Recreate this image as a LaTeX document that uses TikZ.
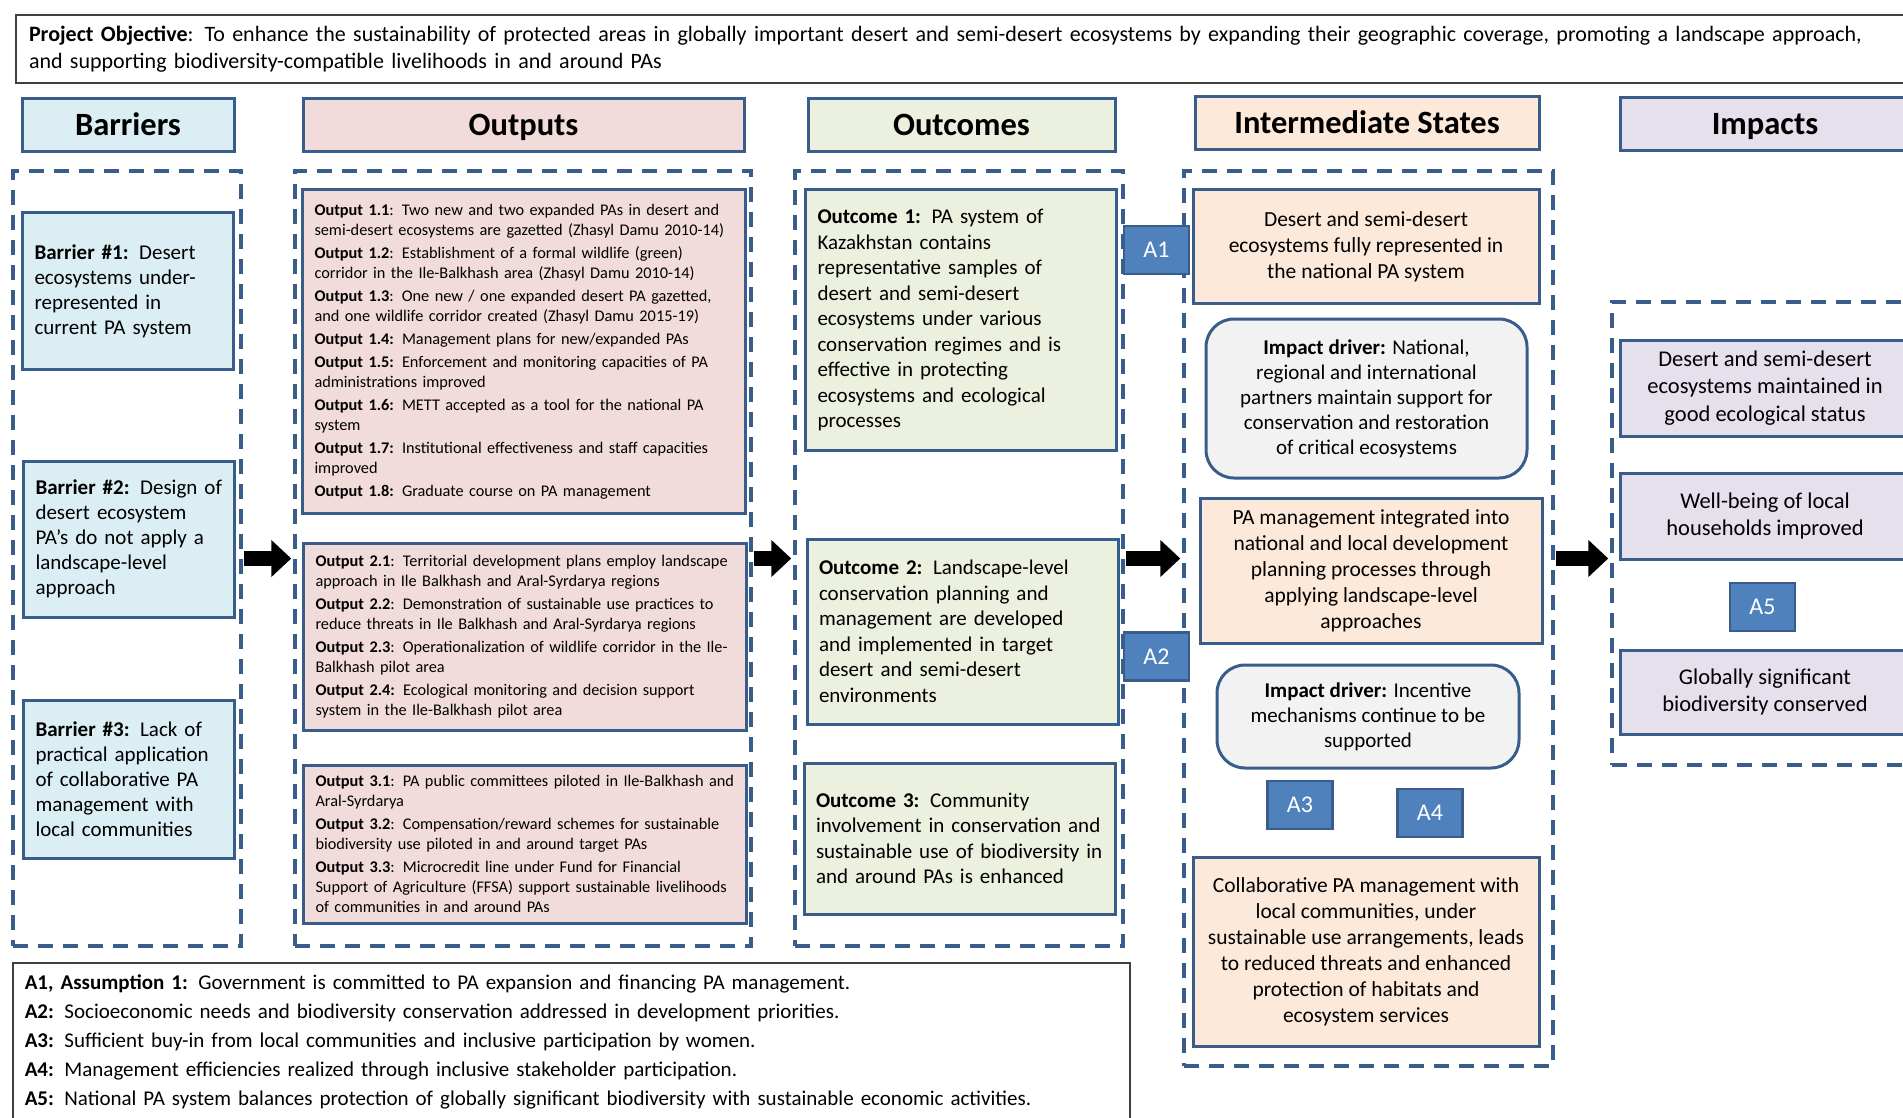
\documentclass[tikz,border=0pt]{standalone}
\usepackage{fontspec}
\setmainfont{Carlito}
\usepackage{tikz}
\usetikzlibrary{arrows.meta}
\definecolor{edge}{HTML}{385D8A}
\definecolor{objline}{HTML}{404040}
\definecolor{barfill}{HTML}{DAEEF3}
\definecolor{outfill}{HTML}{F2DCDB}
\definecolor{ocfill}{HTML}{EBF1DE}
\definecolor{intfill}{HTML}{FDE9D9}
\definecolor{impfill}{HTML}{E5E0EC}
\definecolor{drvfill}{HTML}{F2F2F2}
\definecolor{afill}{HTML}{4F81BD}

\begin{document}
\begin{tikzpicture}[x=1pt, y=-1pt,
  cellbox/.style={draw=edge, line width=3pt, inner xsep=12pt, inner ysep=0pt},
  head/.style={cellbox, minimum height=53pt, text height=26pt, text depth=5pt, font=\fontsize{32.5}{38}\selectfont\bfseries},
  dashgrp/.style={draw=edge, line width=3.5pt, dash pattern=on 15pt off 10pt, inner sep=0pt},
  barcell/.style={cellbox, fill=barfill, text width=187pt, align=left, font=\fontsize{21}{25}\selectfont},
  outcell/.style={cellbox, fill=outfill, text width=419pt, align=left, font=\fontsize{16.3}{20}\selectfont},
  occell/.style={cellbox, fill=ocfill, text width=287pt, align=left, font=\fontsize{21}{25.5}\selectfont},
  intcell/.style={cellbox, fill=intfill, align=center, font=\fontsize{21.5}{26}\selectfont},
  drvcell/.style={cellbox, fill=drvfill, rounded corners=28pt, align=center, font=\fontsize{21}{25}\selectfont},
  impcell/.style={cellbox, fill=impfill, minimum width=290pt, align=center, font=\fontsize{22.5}{27.5}\selectfont},
  acell/.style={draw=edge, fill=afill, line width=2.5pt, text=white, minimum width=65pt, minimum height=48pt, inner sep=0pt, font=\fontsize{24}{28}\selectfont},
  fat/.style={line width=15pt, -{Triangle[width=36pt,length=20pt]}, shorten <=1pt, shorten >=2pt}]
  \useasboundingbox (0,0) rectangle (1903,1118);

  \node[draw=objline, line width=2pt, anchor=west, text width=1885pt, minimum height=68pt, inner xsep=13pt, align=left, font=\fontsize{22}{26.5}\selectfont] (goal) at (15,49)
    {\textbf{Project Objective}: To enhance the sustainability of protected areas in globally important desert and semi-desert ecosystems by expanding their geographic coverage, promoting a landscape approach,\\and supporting biodiversity-compatible livelihoods in and around PAs};

  \node[head, fill=barfill, minimum width=212pt] (hbar) at (128,125.5) {Barriers};
  \node[head, fill=outfill, minimum width=441pt] (hout) at (523.5,125.5) {Outputs};
  \node[head, fill=ocfill, minimum width=307pt] (hoc) at (961.5,125.5) {Outcomes};
  \node[head, fill=intfill, minimum width=344pt] (hint) at (1367,123.5) {Intermediate States};
  \node[head, fill=impfill, minimum width=290pt] (himp) at (1765,124) {Impacts};

  \node[dashgrp, minimum width=228pt, minimum height=775pt] (gbar) at (127,558.5) {};
  \node[dashgrp, minimum width=456pt, minimum height=775pt] (gout) at (523,558.5) {};
  \node[dashgrp, minimum width=328pt, minimum height=775pt] (goc) at (959,558.5) {};
  \node[dashgrp, minimum width=369pt, minimum height=895pt] (gint) at (1368.5,618.5) {};
  \node[dashgrp, minimum width=313pt, minimum height=463pt] (gimp) at (1768.5,533.5) {};

  \node[barcell, minimum height=156pt] (bar1) at (128,291)
    {\textbf{Barrier \#1:} Desert\\ecosystems under-\\represented in\\current PA system};
  \node[barcell, minimum height=156pt] (bar2) at (129,539)
    {\textbf{Barrier \#2:} Design of\\desert ecosystem\\PA’s do not apply a\\landscape-level\\approach};
  \node[barcell, minimum height=158pt] (bar3) at (129,779)
    {\textbf{Barrier \#3:} Lack of\\practical application\\of collaborative PA\\management with\\local communities};

  \node[outcell, minimum height=323pt] (out1) at (524,351.5)
    {\textbf{Output 1.1}: Two new and two expanded PAs in desert and\\semi-desert ecosystems are gazetted (Zhasyl Damu 2010-14)\\[3pt]
     \textbf{Output 1.2}: Establishment of a formal wildlife (green)\\corridor in the Ile-Balkhash area (Zhasyl Damu 2010-14)\\[3pt]
     \textbf{Output 1.3}: One new / one expanded desert PA gazetted,\\and one wildlife corridor created (Zhasyl Damu 2015-19)\\[3pt]
     \textbf{Output 1.4:} Management plans for new/expanded PAs\\[3pt]
     \textbf{Output 1.5:} Enforcement and monitoring capacities of PA\\administrations improved\\[3pt]
     \textbf{Output 1.6:} METT accepted as a tool for the national PA\\system\\[3pt]
     \textbf{Output 1.7:} Institutional effectiveness and staff capacities\\improved\\[3pt]
     \textbf{Output 1.8:} Graduate course on PA management};
  \node[outcell, minimum height=187pt] (out2) at (525,636.5)
    {\textbf{Output 2.1}: Territorial development plans employ landscape\\approach in Ile Balkhash and Aral-Syrdarya regions\\[3pt]
     \textbf{Output 2.2}: Demonstration of sustainable use practices to\\reduce threats in Ile Balkhash and Aral-Syrdarya regions\\[3pt]
     \textbf{Output 2.3}: Operationalization of wildlife corridor in the Ile-\\Balkhash pilot area\\[3pt]
     \textbf{Output 2.4:} Ecological monitoring and decision support\\system in the Ile-Balkhash pilot area};
  \node[outcell, minimum height=158pt] (out3) at (525,844)
    {\textbf{Output 3.1}: PA public committees piloted in Ile-Balkhash and\\Aral-Syrdarya\\[3pt]
     \textbf{Output 3.2}: Compensation/reward schemes for sustainable\\biodiversity use piloted in and around target PAs\\[3pt]
     \textbf{Output 3.3}: Microcredit line under Fund for Financial\\Support of Agriculture (FFSA) support sustainable livelihoods\\of communities in and around PAs};

  \node[occell, minimum height=260pt] (oc1) at (961,320)
    {\textbf{Outcome 1:} PA system of\\Kazakhstan contains\\representative samples of\\desert and semi-desert\\ecosystems under various\\conservation regimes and is\\effective in protecting\\ecosystems and ecological\\processes};
  \node[occell, minimum height=185pt] (oc2) at (962.5,631.5)
    {\textbf{Outcome 2:} Landscape-level\\conservation planning and\\management are developed\\and implemented in target\\desert and semi-desert\\environments};
  \node[occell, minimum height=151pt] (oc3) at (959.5,838.5)
    {\textbf{Outcome 3:} Community\\involvement in conservation and\\sustainable use of biodiversity in\\and around PAs is enhanced};

  \node[intcell, minimum width=346pt, minimum height=113pt] (int1) at (1366,246.5)
    {Desert and semi-desert\\ecosystems fully represented in\\the national PA system};
  \node[drvcell, minimum width=321pt, minimum height=159pt] (drv1) at (1366.5,398.5)
    {\textbf{Impact driver:} National,\\regional and international\\partners maintain support for\\conservation and restoration\\of critical ecosystems};
  \node[intcell, minimum width=342pt, minimum height=145pt] (int2) at (1371,570.5)
    {PA management integrated into\\national and local development\\planning processes through\\applying landscape-level\\approaches};
  \node[drvcell, minimum width=302pt, minimum height=103pt] (drv2) at (1368,716.5)
    {\textbf{Impact driver:} Incentive\\mechanisms continue to be\\supported};
  \node[intcell, minimum width=346pt, minimum height=189pt] (int3) at (1366,951.5)
    {Collaborative PA management with\\local communities, under\\sustainable use arrangements, leads\\to reduced threats and enhanced\\protection of habitats and\\ecosystem services};

  \node[impcell, minimum height=96pt] (imp1) at (1765,388)
    {Desert and semi-desert\\ecosystems maintained in\\good ecological status};
  \node[impcell, minimum height=86pt] (imp2) at (1765,516)
    {Well-being of local\\households improved};
  \node[impcell, minimum height=84pt] (imp3) at (1765,692)
    {Globally significant\\biodiversity conserved};

  \draw[fat] (gbar.east) -- (gout.west);
  \draw[fat] (gout.east) -- (goc.west);
  \draw[fat] (goc.east) -- (goc.east -| gint.west);
  \draw[fat] (goc.east -| gint.east) -- (goc.east -| gimp.west);

  \node[acell] (a1) at (1156.5,250) {A1};
  \node[acell] (a2) at (1156.5,656.5) {A2};
  \node[acell] (a3) at (1300,805) {A3};
  \node[acell] (a4) at (1430,813) {A4};
  \node[acell] (a5) at (1762.5,607) {A5};

  \node[draw=objline, line width=1.5pt, anchor=north west, text width=1093pt, minimum height=158pt, inner xsep=12pt, inner ysep=8pt, align=left, font=\fontsize{21}{29}\selectfont] (notes) at (12,962)
    {\textbf{A1, Assumption 1:}\enspace Government is committed to PA expansion and financing PA management.\\
     \textbf{A2:} Socioeconomic needs and biodiversity conservation addressed in development priorities.\\
     \textbf{A3:} Sufficient buy-in from local communities and inclusive participation by women.\\
     \textbf{A4:} Management efficiencies realized through inclusive stakeholder participation.\\
     \textbf{A5:} National PA system balances protection of globally significant biodiversity with sustainable economic activities.};
\end{tikzpicture}
\end{document}
